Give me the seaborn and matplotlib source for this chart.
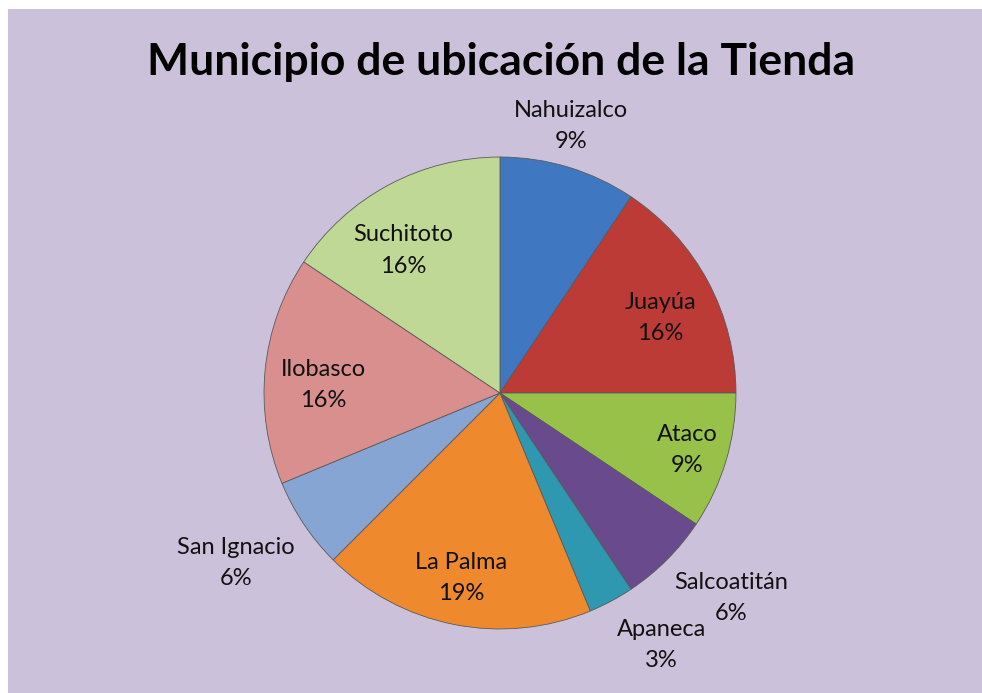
import seaborn as sns
import matplotlib.pyplot as plt
from matplotlib.patches import Rectangle
import numpy as np

# data (store counts, shown as rounded percentages)
municipios = ["Nahuizalco", "Juayúa", "Ataco", "Salcoatitán", "Apaneca",
              "La Palma", "San Ignacio", "Ilobasco", "Suchitoto"]
tiendas = [3, 5, 3, 2, 1, 6, 2, 5, 5]

colores = ["#3f78c0", "#bd3b37", "#98c14a", "#694a8c", "#2e98b0",
           "#ee8a2d", "#87a5d2", "#d88f8e", "#c0d896"]
# label placement: radial distance (1.0 = pie edge) and angle nudge in degrees
dist_label = [1.17, 0.75, 0.83, 1.31, 1.27, 0.80, 1.33, 0.75, 0.73]
giro_label = [2, -3, 0, 3.5, 4.5, -0.5, -1, 3, 6]

sns.set_theme(style="white")
plt.rcParams['font.family'] = ['Lato', 'DejaVu Sans']

fig = plt.figure(figsize=(9.82, 6.93), dpi=100)
fig.patch.set_facecolor("white")
fig.patches.append(Rectangle((8 / 982, 0), 1, 1 - 9 / 693, transform=fig.transFigure,
                             facecolor="#ccc1da", edgecolor="none", zorder=-10))

ax = fig.add_axes([0.2688, 0.0924, 0.4807, 0.681])
ax.set_facecolor("none")

wedges, _ = ax.pie(tiendas, colors=colores, startangle=90, counterclock=False,
                   radius=1.0,
                   wedgeprops=dict(edgecolor="#5a5a5a", linewidth=0.6))

total = sum(tiendas)
for w, nombre, n, d, g in zip(wedges, municipios, tiendas, dist_label, giro_label):
    ang = np.deg2rad((w.theta1 + w.theta2) / 2 + g)
    x, y = d * np.cos(ang), d * np.sin(ang)
    ax.text(x, y, f"{nombre}\n{round(n / total * 100)}%", ha="center", va="center",
            fontsize=17, color="#111111", linespacing=1.6)

ax.set_xlim(-1, 1)
ax.set_ylim(-1, 1)
ax.set_aspect("equal")
ax.axis("off")

fig.text(0.51, 0.91, "Municipio de ubicación de la Tienda", ha="center", va="center",
         fontsize=32, fontweight="bold", color="black")

fig.savefig("out.png", dpi=100)
